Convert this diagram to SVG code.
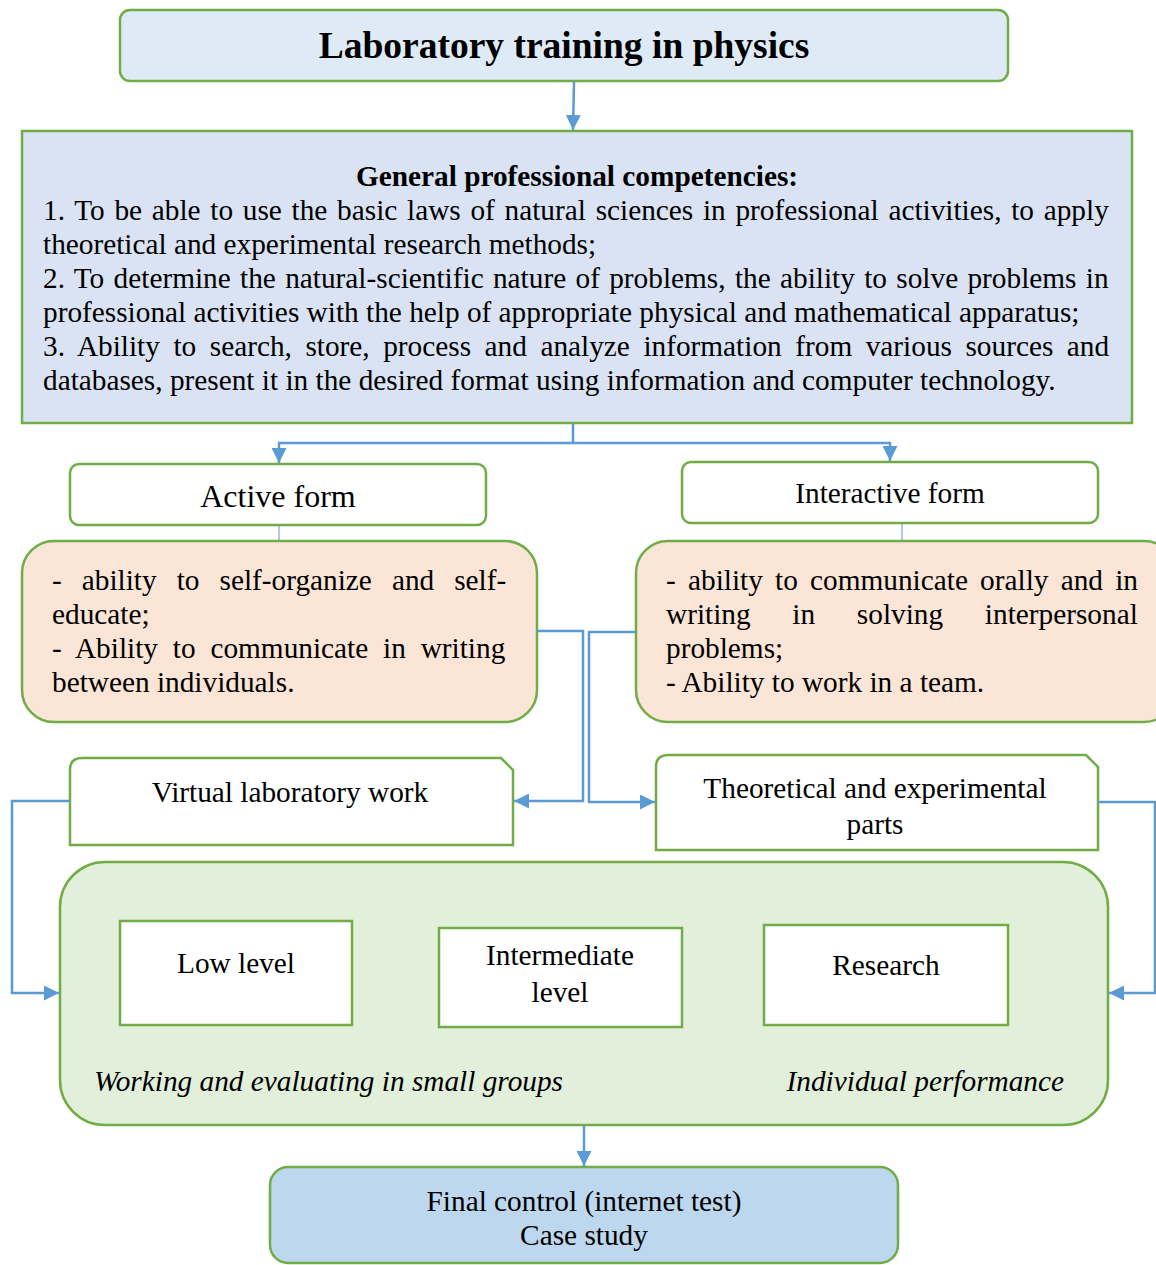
<svg xmlns="http://www.w3.org/2000/svg" width="1156" height="1265" viewBox="0 0 1156 1265">
<defs>
<style>
.b{stroke:#70ad47;stroke-width:2.5}
.t{font-family:"Liberation Serif","Times New Roman",serif;fill:#000;font-size:29.3px}
.c{fill:none;stroke:#5b9bd5;stroke-width:2.5}
.th{fill:none;stroke:#5b9bd5;stroke-width:1}
</style>
<marker id="a" viewBox="0 0 12 12" refX="12" refY="6" markerWidth="15" markerHeight="15" orient="auto" markerUnits="userSpaceOnUse"><path d="M0,0 L12,6 L0,12 Z" fill="#5b9bd5"/></marker>
</defs>
<rect width="1156" height="1265" fill="#fff"/>

<g id="title">
<rect class="b" x="120" y="10" width="888" height="71" rx="10" fill="#deebf6"/>
<text class="t" x="564" y="58" style="font-size:37.5px" font-weight="bold" text-anchor="middle">Laboratory training in physics</text>
</g>

<g id="competencies">
<rect class="b" x="22" y="131" width="1110" height="292" fill="#dae3f3"/>
<text class="t" x="577" y="186" font-weight="bold" text-anchor="middle">General professional competencies:</text>
<text class="t">
<tspan x="43" y="220" word-spacing="2.4">1. To be able to use the basic laws of natural sciences in professional activities, to apply</tspan>
<tspan x="43" y="254">theoretical and experimental research methods;</tspan>
<tspan x="43" y="288" word-spacing="2">2. To determine the natural-scientific nature of problems, the ability to solve problems in</tspan>
<tspan x="43" y="322">professional activities with the help of appropriate physical and mathematical apparatus;</tspan>
<tspan x="43" y="356" word-spacing="6.2">3. Ability to search, store, process and analyze information from various sources and</tspan>
<tspan x="43" y="390">databases, present it in the desired format using information and computer technology.</tspan>
</text>
</g>

<g id="active-form">
<rect class="b" x="70" y="464" width="416" height="61" rx="9" fill="#fff"/>
<text class="t" x="278" y="507" style="font-size:32px" text-anchor="middle">Active form</text>
</g>

<g id="interactive-form">
<rect class="b" x="682" y="462" width="416" height="61" rx="9" fill="#fff"/>
<text class="t" x="890" y="503" text-anchor="middle">Interactive form</text>
</g>

<g id="active-abilities">
<rect class="b" x="22" y="541" width="515" height="181" rx="32" fill="#fbe5d6"/>
<text class="t">
<tspan x="52" y="590" word-spacing="12.7">- ability to self-organize and self-</tspan>
<tspan x="52" y="624">educate;</tspan>
<tspan x="52" y="658" word-spacing="7.5">- Ability to communicate in writing</tspan>
<tspan x="52" y="692">between individuals.</tspan>
</text>
</g>

<g id="interactive-abilities">
<rect class="b" x="636" y="541" width="540" height="181" rx="32" fill="#fbe5d6"/>
<text class="t">
<tspan x="666" y="590" word-spacing="4.9">- ability to communicate orally and in</tspan>
<tspan x="666" y="624" word-spacing="34.4">writing in solving interpersonal</tspan>
<tspan x="666" y="658">problems;</tspan>
<tspan x="666" y="692">- Ability to work in a team.</tspan>
</text>
</g>

<g id="virtual-lab">
<path class="b" d="M70,845 L70,770 Q70,758 82,758 L501,758 L513,770 L513,845 Z" fill="#fff"/>
<text class="t" x="290" y="802" text-anchor="middle">Virtual laboratory work</text>
</g>

<g id="theoretical-experimental">
<path class="b" d="M656,850 L656,767 Q656,755 668,755 L1086,755 L1098,767 L1098,850 Z" fill="#fff"/>
<text class="t" text-anchor="middle"><tspan x="875" y="798">Theoretical and experimental</tspan><tspan x="875" y="834">parts</tspan></text>
</g>

<g id="levels">
<rect class="b" x="60" y="862" width="1048" height="263" rx="45" fill="#e2efda"/>
<text class="t" x="94" y="1091" font-style="italic">Working and evaluating in small groups</text>
<text class="t" x="1064" y="1091" font-style="italic" text-anchor="end">Individual performance</text>
</g>

<g id="low-level">
<rect class="b" x="120" y="921" width="232" height="104" fill="#fff"/>
<text class="t" x="236" y="973" text-anchor="middle">Low level</text>
</g>

<g id="intermediate-level">
<rect class="b" x="439" y="928" width="243" height="99" fill="#fff"/>
<text class="t" text-anchor="middle"><tspan x="560" y="965">Intermediate</tspan><tspan x="560" y="1002">level</tspan></text>
</g>

<g id="research">
<rect class="b" x="764" y="925" width="244" height="100" fill="#fff"/>
<text class="t" x="886" y="975" text-anchor="middle">Research</text>
</g>

<g id="final-control">
<rect class="b" x="270" y="1167" width="628" height="96" rx="18" fill="#bdd7ee"/>
<text class="t" text-anchor="middle"><tspan x="584" y="1211">Final control (internet test)</tspan><tspan x="584" y="1245">Case study</tspan></text>
</g>

<g id="connectors">
<path class="c" d="M574,82 L573,130" marker-end="url(#a)"/>
<path class="c" d="M573,424 L573,443 L279,443 L279,463" marker-end="url(#a)"/>
<path class="c" d="M573,443 L890,443 L890,461" marker-end="url(#a)"/>
<path class="th" d="M279,526 L279,541"/>
<path class="th" d="M902,524 L902,540"/>
<path class="c" d="M537,631 L583,631 L583,801 L514,801" marker-end="url(#a)"/>
<path class="c" d="M636,632 L589,632 L589,802 L655,802" marker-end="url(#a)"/>
<path class="c" d="M70,801 L12,801 L12,993 L59,993" marker-end="url(#a)"/>
<path class="c" d="M1098,802 L1155,802 L1155,993 L1109,993" marker-end="url(#a)"/>
<path class="c" d="M584,1126 L584,1166" marker-end="url(#a)"/>
</g>
</svg>
